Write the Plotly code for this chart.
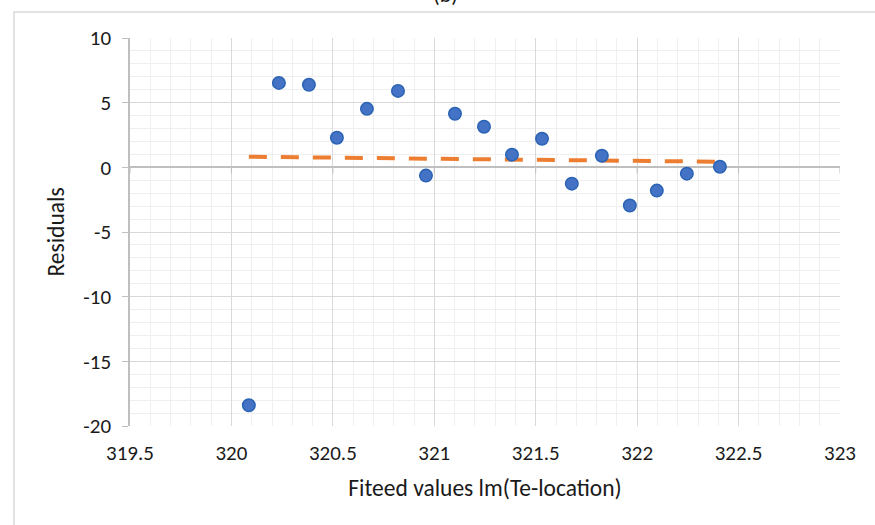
import plotly.graph_objects as go

# Fitted values and residuals of lm(Te-location)
fitted = [320.086, 320.234, 320.382, 320.520, 320.668, 320.821, 320.959, 321.102,
          321.245, 321.383, 321.531, 321.678, 321.826, 321.964, 322.097, 322.245, 322.408]
residuals = [-18.4, 6.53, 6.38, 2.29, 4.52, 5.91, -0.64, 4.14,
             3.14, 0.98, 2.21, -1.26, 0.90, -2.95, -1.80, -0.49, 0.05]

# Linear trend line end points
trend_x = [320.086, 322.408]
trend_y = [0.82, 0.43]

x_ticks = [319.5, 320, 320.5, 321, 321.5, 322, 322.5, 323]
x_tick_text = ["319.5", "320", "320.5", "321", "321.5", "322", "322.5", "323"]
y_ticks = [-20, -15, -10, -5, 0, 5, 10]
y_tick_text = ["-20", "-15", "-10", "-5", "0", "5", "10"]

FONT = "Calibri, Carlito, Lato, sans-serif"
MAJOR = "#d9d9d9"
MINOR = "#efefef"
AXIS = "#bfbfbf"
TEXT = "#1a1a1a"

fig = go.Figure()

fig.add_trace(go.Scatter(
    x=trend_x, y=trend_y, mode="lines",
    line=dict(color="#ed7d31", width=4, dash="18px,14px"),
    hoverinfo="skip", showlegend=False,
))

fig.add_trace(go.Scatter(
    x=fitted, y=residuals, mode="markers",
    marker=dict(size=12.5, color="#4472c4", line=dict(color="#2a63b5", width=1.5)),
    showlegend=False,
))

# Small tick marks where the horizontal axis crosses at zero
for xv in x_ticks:
    fig.add_shape(
        type="line", xref="x", yref="y",
        xsizemode="scaled", ysizemode="pixel",
        x0=xv, x1=xv, yanchor=0, y0=0, y1=-6,
        line=dict(color=AXIS, width=1),
    )

# Outer chart border
fig.add_shape(
    type="rect", xref="paper", yref="paper",
    x0=-0.1634, x1=1.06, y0=-0.30, y1=1.067,
    line=dict(color="#d9d9d9", width=1.5), fillcolor="rgba(0,0,0,0)",
    layer="below",
)

fig.add_annotation(
    text="(b)", xref="paper", yref="paper", x=0.444, y=1.072,
    xanchor="center", yanchor="bottom", showarrow=False,
    font=dict(family=FONT, size=22, color=TEXT),
)

fig.update_layout(
    width=875, height=525,
    margin=dict(l=130, r=35, t=38, b=99),
    paper_bgcolor="white", plot_bgcolor="white",
    font=dict(family=FONT, size=21, color=TEXT),
    xaxis=dict(
        range=[319.5, 323], tickvals=x_ticks, ticktext=x_tick_text,
        showgrid=True, gridcolor=MAJOR, gridwidth=1,
        minor=dict(dtick=0.1, showgrid=True, gridcolor=MINOR, gridwidth=1),
        zeroline=False, showline=False, ticks="",
        ticklabelstandoff=12,
        title=dict(text="Fiteed values lm(Te-location)", standoff=14,
                   font=dict(family=FONT, size=23.5, color=TEXT)),
    ),
    yaxis=dict(
        range=[-20, 10], tickvals=y_ticks, ticktext=y_tick_text,
        showgrid=True, gridcolor=MAJOR, gridwidth=1,
        minor=dict(dtick=1, showgrid=True, gridcolor=MINOR, gridwidth=1),
        zeroline=True, zerolinecolor=AXIS, zerolinewidth=1.5,
        showline=True, linecolor=AXIS, linewidth=1.5,
        ticks="outside", ticklen=6, tickcolor=AXIS,
        ticklabelstandoff=7,
        title=dict(text="Residuals", standoff=12,
                   font=dict(family=FONT, size=23.5, color=TEXT)),
    ),
)

fig.write_html("out.html")
